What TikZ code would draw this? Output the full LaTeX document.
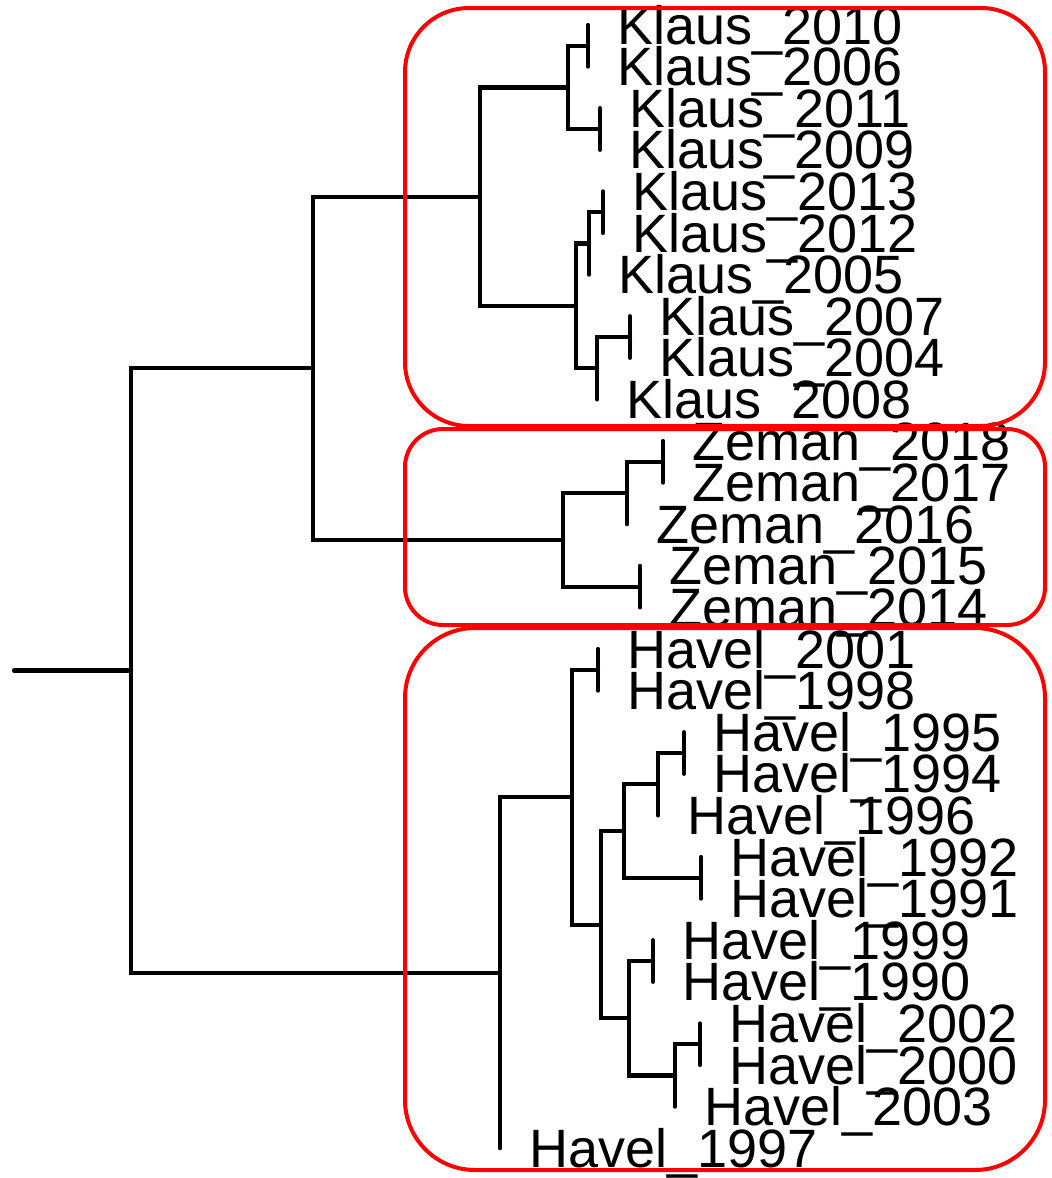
\documentclass[tikz,border=0pt]{standalone}
\usepackage{fontspec}
\setmainfont{Liberation Sans}
\usepackage{xcolor}
\usetikzlibrary{calc}

\begin{document}
\begin{tikzpicture}[x=0.5pt, y=-0.5pt,
    branch/.style={line width=2.1pt, black, line cap=round},
    leaflab/.style={anchor=base west, inner sep=0pt, xshift=14.5pt, yshift=-9.5pt,
        font=\fontsize{27}{30}\selectfont},
    clusterbox/.style={line width=2pt, red}]
    \useasboundingbox (0,0) rectangle (1051,1178);

    % Leaves: name / height of parent / row / label
    \foreach \nm/\px/\i/\txt in {
        k10/588/0/Klaus\_2010, k06/588/1/Klaus\_2006,
        k11/600/2/Klaus\_2011, k09/600/3/Klaus\_2009,
        k13/603/4/Klaus\_2013, k12/603/5/Klaus\_2012,
        k05/589/6/Klaus\_2005, k07/630/7/Klaus\_2007,
        k04/630/8/Klaus\_2004, k08/597/9/Klaus\_2008,
        z18/663/10/Zeman\_2018, z17/663/11/Zeman\_2017,
        z16/627/12/Zeman\_2016, z15/640/13/Zeman\_2015,
        z14/640/14/Zeman\_2014,
        h01/598/15/Havel\_2001, h98/598/16/Havel\_1998,
        h95/684/17/Havel\_1995, h94/684/18/Havel\_1994,
        h96/658/19/Havel\_1996, h92/701/20/Havel\_1992,
        h91/701/21/Havel\_1991, h99/653/22/Havel\_1999,
        h90/653/23/Havel\_1990, h02/700/24/Havel\_2002,
        h00/700/25/Havel\_2000, h03/675/26/Havel\_2003,
        h97/500/27/Havel\_1997} {
        \coordinate (\nm) at (\px, {25+41.6*\i});
        \node[leaflab] (\nm-lab) at (\nm) {\txt};
    }

    % Merge points of the Klaus group
    \coordinate (ka) at (588, 45.8);
    \coordinate (kb) at (600, 129);
    \coordinate (kc) at (568, 87.4);
    \coordinate (kd) at (603, 212.2);
    \coordinate (ke) at (589, 243.4);
    \coordinate (kf) at (630, 337);
    \coordinate (kg) at (597, 368.2);
    \coordinate (kh) at (576, 305.8);
    \coordinate (ki) at (480, 196.6);
    % Merge points of the Zeman group
    \coordinate (za) at (663, 461.8);
    \coordinate (zb) at (627, 493);
    \coordinate (zc) at (640, 586.6);
    \coordinate (zd) at (563, 539.8);
    % Merge points of the Havel group
    \coordinate (ha) at (598, 669.8);
    \coordinate (hb) at (684, 753);
    \coordinate (hc) at (658, 784.2);
    \coordinate (hd) at (701, 877.8);
    \coordinate (he) at (624, 831);
    \coordinate (hf) at (653, 961);
    \coordinate (hg) at (700, 1044.2);
    \coordinate (hh) at (675, 1075.4);
    \coordinate (hi) at (629, 1018.2);
    \coordinate (hj) at (601, 924.6);
    \coordinate (hk) at (572, 797.2);
    \coordinate (hl) at (500, 972.7);
    % Upper merge and root
    \coordinate (top) at (313, 368.2);
    \coordinate (root) at (131, 670.45);
    \coordinate (stem) at (14, 670.45);

    % Draw the tree
    \draw[branch] (stem) -- (root);
    \foreach \p/\c in {root/top, root/hl, top/ki, top/zd,
        ki/kc, ki/kh, kc/ka, kc/kb, ka/k10, ka/k06, kb/k11, kb/k09,
        kh/ke, kh/kg, ke/kd, ke/k05, kd/k13, kd/k12,
        kg/kf, kg/k08, kf/k07, kf/k04,
        zd/zb, zd/zc, zb/za, zb/z16, za/z18, za/z17, zc/z15, zc/z14,
        hl/hk, hl/h97, hk/ha, hk/hj, ha/h01, ha/h98,
        hj/he, hj/hi, he/hc, he/hd, hc/hb, hc/h96, hb/h95, hb/h94,
        hd/h92, hd/h91, hi/hf, hi/hh, hf/h99, hf/h90,
        hh/hg, hh/h03, hg/h02, hg/h00}
        \draw[branch] (\p) |- (\c);

    % Cluster boxes
    \draw[clusterbox, rounded corners=32pt] (405,8) rectangle (1045,426);
    \draw[clusterbox, rounded corners=19pt] (405,429) rectangle (1045,625);
    \draw[clusterbox, rounded corners=35pt] (405,628) rectangle (1045,1170);
\end{tikzpicture}
\end{document}
